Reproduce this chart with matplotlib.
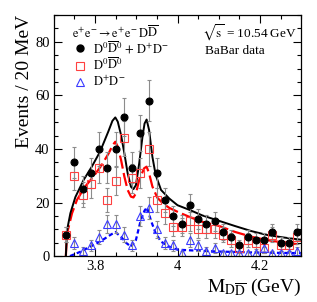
import numpy as np
import matplotlib
matplotlib.use("Agg")
import matplotlib.pyplot as plt
from matplotlib.lines import Line2D
from matplotlib.ticker import MultipleLocator

plt.rcParams["font.family"] = ["Liberation Serif", "DejaVu Serif"]
plt.rcParams["mathtext.fontset"] = "stix"

# binned data, 20 MeV bins (bin centres in GeV)
mass = [3.73, 3.75, 3.77, 3.79, 3.81, 3.83, 3.85, 3.87, 3.89, 3.91,
        3.93, 3.95, 3.97, 3.99, 4.01, 4.03, 4.05, 4.07, 4.09, 4.11,
        4.13, 4.15, 4.17, 4.19, 4.21, 4.23, 4.25, 4.27, 4.29]
n_all = [8, 35, 25, 31, 40, 33, 40, 52, 33, 46,
         58, 31, 21, 15, 12, 19, 14, 12, 13, 9,
         7, 4, 7, 6, 6, 9, 5, 5, 9]
n_d0 = [8, 30, 23, 27, 33, 21, 28, 44, 29, 31,
        40, 21, 16, 11, 11, 13, 10, 10, 10, 8,
        6, 3, 6, 5, 3, 8, 4, 4, 7]
n_dp = [0, 5, 2, 4, 7, 12, 12, 8, 4, 15,
        18, 10, 5, 4, 1, 6, 4, 2, 3, 1,
        1, 1, 1, 1, 3, 1, 1, 1, 2]

# fit curves
fit_all_x = [3.729, 3.732, 3.740, 3.752, 3.772, 3.792, 3.812, 3.832, 3.842,
             3.849, 3.855, 3.863, 3.871, 3.879, 3.887, 3.893, 3.899, 3.907,
             3.915, 3.920, 3.925, 3.931, 3.939, 3.947, 3.960, 3.980, 4.000,
             4.030, 4.060, 4.100, 4.140, 4.180, 4.220, 4.260, 4.300]
fit_all_y = [0, 9.7, 16, 22, 28.4, 33.4, 39, 46.5, 50.5,
             51.8, 50.2, 45.2, 38.4, 30.9, 25.9, 25.0, 26.5, 34.6,
             44.6, 49.5, 51.0, 47.1, 37.1, 30.3, 24.7, 21.5, 19.0,
             17.2, 15.2, 13.2, 11.2, 9.3, 7.8, 6.9, 6.1]

fit_d0_x = [3.729, 3.732, 3.744, 3.756, 3.776, 3.796, 3.816, 3.833, 3.843,
            3.849, 3.855, 3.863, 3.871, 3.879, 3.887, 3.893, 3.899, 3.907,
            3.919, 3.925, 3.931, 3.939, 3.951, 3.965, 3.980, 4.002, 4.028,
            4.060, 4.100, 4.140, 4.180, 4.220, 4.260, 4.300]
fit_d0_y = [0, 8.5, 16, 21, 26, 29.7, 34, 38.4, 41.5,
            42.7, 40.9, 35.9, 29.7, 24.7, 22.2, 21.9, 23.4, 28.4,
            32.8, 33.4, 30.9, 26.0, 21.8, 19.6, 18.0, 16.4, 14.7,
            12.8, 11.3, 9.0, 7.2, 5.9, 5.0, 4.3]

fit_dp_x = [3.739, 3.764, 3.788, 3.812, 3.837, 3.849, 3.863, 3.875, 3.887,
            3.899, 3.911, 3.920, 3.926, 3.935, 3.947, 3.960, 3.980, 4.000,
            4.050, 4.100, 4.200, 4.300]
fit_dp_y = [0, 1.6, 3.5, 5.4, 7.9, 9.0, 7.2, 5.0, 3.5,
            6.0, 13.5, 17.0, 18.2, 13.5, 8.5, 5.4, 3.5, 2.4,
            2.0, 1.7, 1.3, 1.1]

x = np.array(mass)
err_col = "#8c8c8c"

fig = plt.figure(figsize=(3.17, 3.02), dpi=100)
ax = fig.add_axes([0.170, 0.152, 0.780, 0.798])

# curves
ax.plot(fit_dp_x, fit_dp_y, color="#0000ff", lw=1.6, dashes=(2.0, 1.3))
ax.plot(fit_d0_x, fit_d0_y, color="#ff0000", lw=1.6, dashes=(6.0, 2.0))
ax.plot(fit_all_x, fit_all_y, color="black", lw=1.4)

# data points with Poisson errors
for vals, kw in [
    (n_d0, dict(fmt="s", mfc="none", mec="#ff4040", ms=5.2, mew=0.8)),
    (n_dp, dict(fmt="^", mfc="none", mec="#3a3aff", ms=5.2, mew=0.8)),
    (n_all, dict(fmt="o", mfc="black", mec="black", ms=5.0, mew=0.8)),
]:
    v = np.array(vals, dtype=float)
    keep = v > 0
    ax.errorbar(x[keep], v[keep], yerr=np.sqrt(v[keep]), ecolor=err_col,
                elinewidth=0.8, capsize=1.2, capthick=0.8, **kw)

ax.set_xlim(3.7, 4.3)
ax.set_ylim(0, 90)
ax.xaxis.set_major_locator(MultipleLocator(0.2))
ax.xaxis.set_minor_locator(MultipleLocator(0.05))
ax.yaxis.set_major_locator(MultipleLocator(20))
ax.yaxis.set_minor_locator(MultipleLocator(5))
ax.set_xticks([3.8, 4.0, 4.2])
ax.set_xticklabels(["3.8", "4", "4.2"])
ax.tick_params(which="both", direction="in", top=True, right=True,
               labelsize=10.5, pad=3, width=0.8)
ax.tick_params(which="major", length=6)
ax.tick_params(which="minor", length=3)
for s in ax.spines.values():
    s.set_linewidth(0.9)

ax.set_xlabel(r"$\mathrm{M_{D\overline{D}}}$ (GeV)", fontsize=14, loc="right")
ax.xaxis.set_label_coords(1.0, -0.085)
ax.set_ylabel("Events / 20 MeV", fontsize=14, loc="top")
ax.yaxis.set_label_coords(-0.085, 1.0)

# legend: header line plus three marker entries
ax.text(0.073, 0.925, r"$\mathrm{e^{+}e^{-}\rightarrow e^{+}e^{-}\,D\overline{D}}$",
        transform=ax.transAxes, fontsize=9, ha="left", va="center")
handles = [
    Line2D([], [], ls="none", marker="o", color="black", ms=5.0),
    Line2D([], [], ls="none", marker="s", mfc="none", mec="#ff4040", ms=5.2, mew=0.8),
    Line2D([], [], ls="none", marker="^", mfc="none", mec="#3a3aff", ms=5.2, mew=0.8),
]
labels = [
    r"$\mathrm{D^{0}\overline{D}^{0}\,+\,D^{+}D^{-}}$",
    r"$\mathrm{D^{0}\overline{D}^{0}}$",
    r"$\mathrm{D^{+}D^{-}}$",
]
ax.legend(handles, labels, loc="upper left", bbox_to_anchor=(0.085, 0.897),
          frameon=False, fontsize=9, handlelength=0.85, handletextpad=0.6,
          labelspacing=0.12, borderpad=0, borderaxespad=0)

ax.text(0.598, 0.925, r"$\sqrt{\mathrm{s}}$ = 10.54 GeV", transform=ax.transAxes,
        fontsize=9.5, ha="left", va="center")
ax.text(0.610, 0.851, "BaBar data", transform=ax.transAxes,
        fontsize=9.5, ha="left", va="center")

fig.savefig("out.png", dpi=100)
